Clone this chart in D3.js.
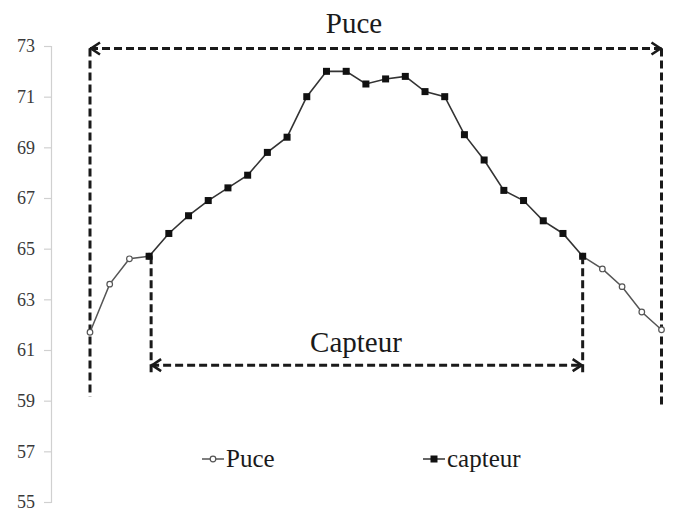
<!DOCTYPE html>
<html>
<head>
<meta charset="utf-8">
<script src="https://cdn.jsdelivr.net/npm/d3@7/dist/d3.min.js"></script>
<style>
  body { margin: 0; background: #fff; }
  text { font-family: "Liberation Serif", "Times New Roman", serif; }
</style>
</head>
<body>
<div id="chart-area"></div>
<script>
// x positions (measurement points along the chip)
var positions = [1, 2, 3, 4, 5, 6, 7, 8, 9, 10, 11, 12, 13, 14, 15,
                 16, 17, 18, 19, 20, 21, 22, 23, 24, 25, 26, 27, 28, 29, 30];

// "Puce" only shows at the edges, "capteur" in the middle
var puce = [61.7, 63.6, 64.6, 64.7,
    null, null, null, null, null, null, null, null, null, null, null,
    null, null, null, null, null, null, null, null, null, null,
    64.7, 64.2, 63.5, 62.5, 61.8];

var capteur = [null, null, null,
    64.7, 65.6, 66.3, 66.9, 67.4, 67.9, 68.8, 69.4, 71.0, 72.0, 72.0,
    71.5, 71.7, 71.8, 71.2, 71.0, 69.5, 68.5, 67.3, 66.9, 66.1, 65.6, 64.7,
    null, null, null, null];

var yTicks = [55, 57, 59, 61, 63, 65, 67, 69, 71, 73];

var W = 675, H = 510;
var margin = { top: 46, right: 13, bottom: 8, left: 51 },
    height = H - margin.top - margin.bottom;

var svg = d3.select("#chart-area").append("svg")
    .attr("width", W)
    .attr("height", H);

var g = svg.append("g")
    .attr("transform", "translate(" + margin.left + ", " + margin.top + ")");

var x = d3.scaleLinear().domain([1, 30]).range([90 - margin.left, 661.5 - margin.left]);
var y = d3.scaleLinear().domain([55, 73]).range([height, 0]);

// y axis
var yAxis = g.append("g").attr("class", "y-axis")
    .call(d3.axisLeft(y).tickValues(yTicks).tickSize(7).tickPadding(9).tickFormat(d3.format("d")));
yAxis.attr("font-family", null).attr("font-size", null);
yAxis.select(".domain").attr("stroke", "#d0d0d0").attr("stroke-width", 1.2);
yAxis.selectAll(".tick line").attr("stroke", "#d0d0d0").attr("stroke-width", 1.2);
yAxis.selectAll(".tick text")
    .attr("fill", "#3a3a3a")
    .style("font-size", "18px");

// annotation brackets (dashed, with arrows)
var dash = "8,4";
function dashed(x1, y1, x2, y2) {
    g.append("line")
        .attr("x1", x1).attr("y1", y1)
        .attr("x2", x2).attr("y2", y2)
        .attr("stroke", "#1a1a1a")
        .attr("stroke-width", 3)
        .attr("stroke-dasharray", dash);
}
function arrowHead(px, py, dir) {
    g.append("path")
        .attr("d", "M" + (px + dir * 9) + "," + (py - 6) + "L" + px + "," + py + "L" + (px + dir * 9) + "," + (py + 6))
        .attr("fill", "none")
        .attr("stroke", "#1a1a1a")
        .attr("stroke-width", 2.6);
}

// Puce bracket
var pTop = y(72.9);
dashed(x(1), pTop, x(30), pTop);
dashed(x(1), pTop, x(1), y(59.15));
dashed(x(30), pTop, x(30), y(58.85));
arrowHead(x(1) + 1, pTop, 1);
arrowHead(x(30) - 1, pTop, -1);

// Capteur bracket
var cBot = y(60.4);
var cx1 = x(4) + 2, cx2 = x(26);
dashed(cx1, y(64.7), cx1, y(60.1));
dashed(cx2, y(64.7), cx2, y(60.1));
dashed(cx1, cBot, cx2, cBot);
arrowHead(cx1 + 1, cBot, 1);
arrowHead(cx2 - 1, cBot, -1);

g.append("text")
    .attr("x", 354 - margin.left)
    .attr("y", 33 - margin.top)
    .attr("text-anchor", "middle")
    .attr("fill", "#1a1a1a")
    .style("font-size", "29px")
    .text("Puce");

g.append("text")
    .attr("x", 356 - margin.left)
    .attr("y", 352 - margin.top)
    .attr("text-anchor", "middle")
    .attr("fill", "#1a1a1a")
    .style("font-size", "29px")
    .text("Capteur");

// series lines
var line = d3.line()
    .defined((d) => d.v !== null)
    .x((d) => x(d.p))
    .y((d) => y(d.v));

var puceData = positions.map((p, i) => ({ p: p, v: puce[i] }));
var capData = positions.map((p, i) => ({ p: p, v: capteur[i] }));

g.append("path")
    .datum(puceData)
    .attr("fill", "none")
    .attr("stroke", "#555")
    .attr("stroke-width", 1.5)
    .attr("d", line);

g.append("path")
    .datum(capData)
    .attr("fill", "none")
    .attr("stroke", "#333")
    .attr("stroke-width", 1.6)
    .attr("d", line);

g.selectAll(".puce-pt")
    .data(puceData.filter((d) => d.v !== null))
    .enter().append("circle")
    .attr("class", "puce-pt")
    .attr("cx", (d) => x(d.p))
    .attr("cy", (d) => y(d.v))
    .attr("r", 2.8)
    .attr("fill", "#fff")
    .attr("stroke", "#555")
    .attr("stroke-width", 1.2);

g.selectAll(".cap-pt")
    .data(capData.filter((d) => d.v !== null))
    .enter().append("rect")
    .attr("class", "cap-pt")
    .attr("x", (d) => x(d.p) - 3.5)
    .attr("y", (d) => y(d.v) - 3.5)
    .attr("width", 7)
    .attr("height", 7)
    .attr("fill", "#111");

// legend
var legend = svg.append("g").attr("class", "legend");
var items = [
    { name: "Puce", x: 202, hollow: true },
    { name: "capteur", x: 423, hollow: false }
];
items.forEach((it) => {
    var ly = 459;
    legend.append("line")
        .attr("x1", it.x).attr("x2", it.x + 22)
        .attr("y1", ly).attr("y2", ly)
        .attr("stroke", it.hollow ? "#555" : "#333")
        .attr("stroke-width", 1.5);
    if (it.hollow) {
        legend.append("circle")
            .attr("cx", it.x + 11).attr("cy", ly).attr("r", 2.8)
            .attr("fill", "#fff").attr("stroke", "#555").attr("stroke-width", 1.2);
    } else {
        legend.append("rect")
            .attr("x", it.x + 7.5).attr("y", ly - 3.5)
            .attr("width", 7).attr("height", 7)
            .attr("fill", "#111");
    }
    legend.append("text")
        .attr("x", it.x + 24)
        .attr("y", ly + 8)
        .attr("fill", "#1a1a1a")
        .style("font-size", "25px")
        .text(it.name);
});
</script>
</body>
</html>
